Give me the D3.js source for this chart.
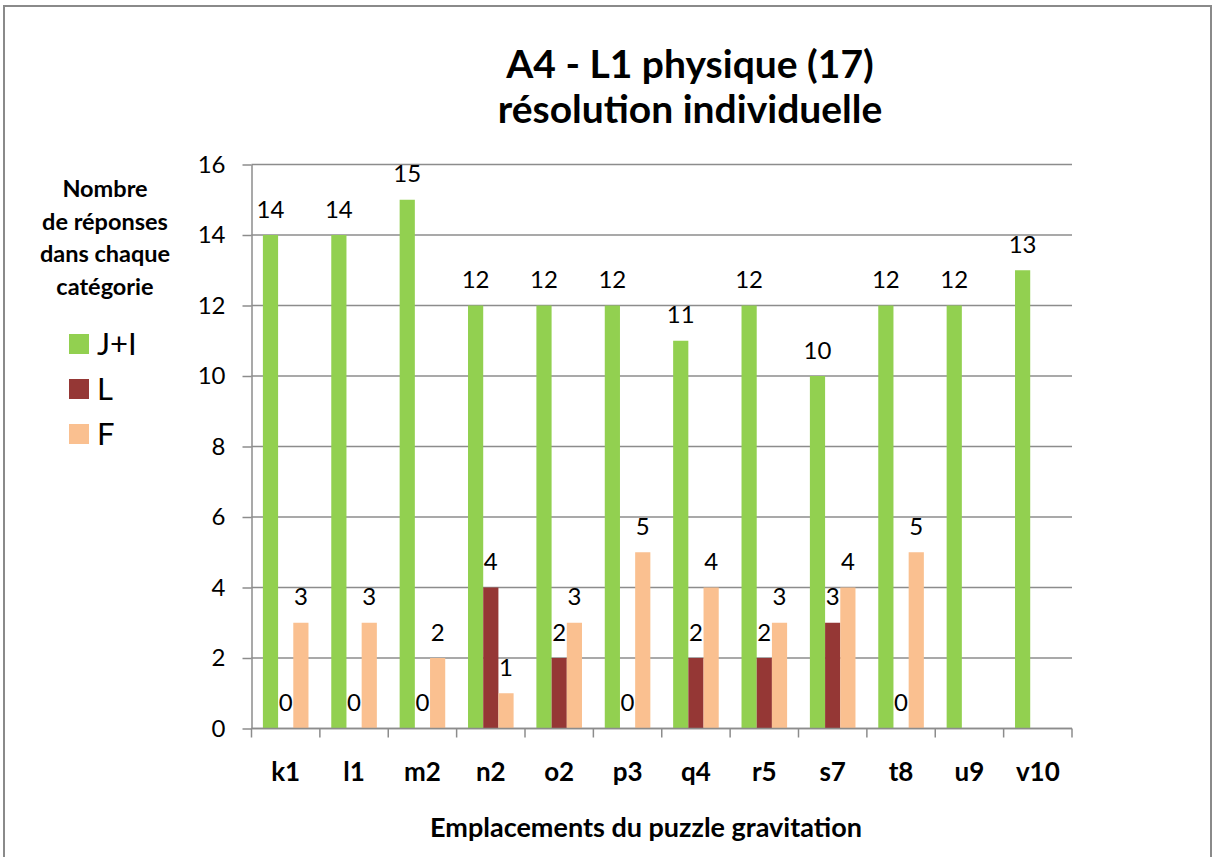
<!DOCTYPE html>
<html><head><meta charset="utf-8">
<script src="https://cdn.jsdelivr.net/npm/d3@7/dist/d3.min.js"></script>
<style>
html,body{margin:0;padding:0;background:#fff;}
svg{display:block;font-family:Lato,"Open Sans",sans-serif;}
</style></head>
<body>
<svg id="chart" width="1213" height="857"></svg>
<script>
const categories = ["k1","l1","m2","n2","o2","p3","q4","r5","s7","t8","u9","v10"];
const seriesNames = ["J+I","L","F"];
const valuesJI = [14,14,15,12,12,12,11,12,10,12,12,13];
const valuesL  = [0,0,0,4,2,0,2,2,3,0,null,null];
const valuesF  = [3,3,2,1,3,5,4,3,4,5,null,null];
const yTicks = [0,2,4,6,8,10,12,14,16];
const colors = {"J+I":"#92D050","L":"#953735","F":"#FAC090"};

const svg = d3.select("#chart");
const plotL = 251.5, plotR = 1072, plotT = 164.5, plotB = 728.5;

// outer border
svg.append("rect").attr("x",4).attr("y",6).attr("width",1207).attr("height",900)
  .attr("fill","#fff").attr("stroke","#8a8a8a").attr("stroke-width",2);

const x = d3.scaleBand().domain(categories).range([plotL,plotR]).paddingInner(0).paddingOuter(0);
const bw = x.bandwidth();
const x1 = d3.scaleBand().domain(seriesNames).range([bw/6, bw*5/6]).padding(0);
const y = d3.scaleLinear().domain([0,16]).range([plotB, plotT]);

// gridlines
svg.append("g").selectAll("line").data(yTicks).join("line")
  .attr("x1",plotL).attr("x2",plotR).attr("y1",d=>y(d)).attr("y2",d=>y(d))
  .attr("stroke","#8c8c8c").attr("stroke-width",1.5);

// y axis
const yAxis = svg.append("g").attr("transform",`translate(${plotL},0)`)
  .call(d3.axisLeft(y).tickValues(yTicks).tickSize(9).tickPadding(17).tickSizeOuter(0));
yAxis.select(".domain").attr("stroke","#8c8c8c").attr("stroke-width",1.5);
yAxis.selectAll(".tick line").attr("stroke","#8c8c8c").attr("stroke-width",1.5);
yAxis.selectAll(".tick text").attr("font-family","Lato").attr("font-size",24).attr("fill","#000");

// bars
const data = categories.map((c,i)=>({cat:c, vals:[
  {s:"J+I",v:valuesJI[i]},{s:"L",v:valuesL[i]},{s:"F",v:valuesF[i]}]}));
const groups = svg.append("g").selectAll("g").data(data).join("g")
  .attr("transform",d=>`translate(${x(d.cat)},0)`);
groups.selectAll("rect").data(d=>d.vals.filter(e=>e.v!==null)).join("rect")
  .attr("x",d=>x1(d.s)).attr("width",x1.bandwidth())
  .attr("y",d=>y(d.v)).attr("height",d=>y(0)-y(d.v))
  .attr("fill",d=>colors[d.s]);
groups.selectAll("text").data(d=>d.vals.filter(e=>e.v!==null)).join("text")
  .attr("x",d=>x1(d.s)+x1.bandwidth()/2).attr("y",d=>y(d.v)-17.5)
  .attr("text-anchor","middle").attr("font-size",24).attr("fill","#000")
  .text(d=>d.v);

// x axis
svg.append("line").attr("x1",plotL).attr("x2",plotR).attr("y1",plotB).attr("y2",plotB)
  .attr("stroke","#8c8c8c").attr("stroke-width",1.5);
const bounds = categories.map(c=>x(c)).concat([x.range()[1]]);
svg.append("g").selectAll("line").data(bounds).join("line")
  .attr("x1",d=>d).attr("x2",d=>d).attr("y1",plotB).attr("y2",plotB+9)
  .attr("stroke","#8c8c8c").attr("stroke-width",1.5);
const xAxis = svg.append("g").attr("transform",`translate(0,${plotB})`)
  .call(d3.axisBottom(x).tickSize(0).tickPadding(34));
xAxis.select(".domain").remove();
xAxis.selectAll(".tick text").attr("font-family","Lato").attr("font-size",26)
  .attr("font-weight","bold").attr("fill","#000");

// titles
svg.append("text").attr("x",690).attr("y",78).attr("text-anchor","middle")
  .attr("font-size",39).attr("font-weight","bold").text("A4 - L1 physique (17)");
svg.append("text").attr("x",690).attr("y",123).attr("text-anchor","middle")
  .attr("font-size",39).attr("font-weight","bold").text("résolution individuelle");
svg.append("text").attr("x",646).attr("y",837).attr("text-anchor","middle")
  .attr("font-size",27).attr("font-weight","bold").text("Emplacements du puzzle gravitation");

// y axis title
const yTitle = ["Nombre","de réponses","dans chaque","catégorie"];
svg.append("g").selectAll("text").data(yTitle).join("text")
  .attr("x",105).attr("y",(d,i)=>197+i*32.5).attr("text-anchor","middle")
  .attr("font-size",23.5).attr("font-weight","bold").text(d=>d);

// legend
const leg = svg.append("g").selectAll("g").data(seriesNames).join("g")
  .attr("transform",(d,i)=>`translate(69,${334+i*45})`);
leg.append("rect").attr("width",20).attr("height",20).attr("fill",d=>colors[d]);
leg.append("text").attr("x",28).attr("y",21).attr("font-size",31).text(d=>d);
</script>
</body></html>
